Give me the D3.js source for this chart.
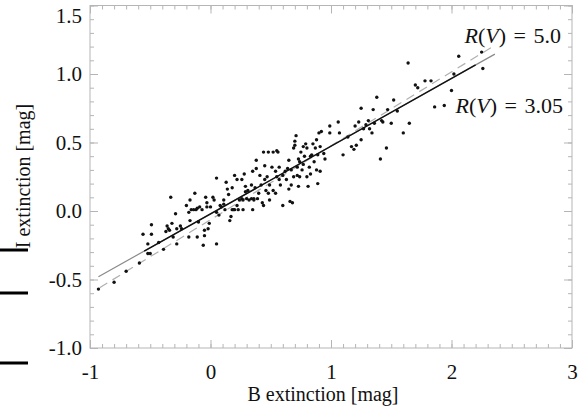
<!DOCTYPE html>
<html>
<head>
<meta charset="utf-8">
<script src="https://cdn.jsdelivr.net/npm/d3@7"></script>
<style>
  body { margin: 0; background: #fff; }
  svg { display: block; }
  text { font-family: "Liberation Serif", "Times New Roman", "DejaVu Serif", serif; }
</style>
</head>
<body>
<div id="plot"></div>
<script>
// B and I extinction values
const bExt = [-0.93,-0.80,-0.70,-0.59,-0.52,-0.50,-0.56,-0.49,-0.49,-0.52,-0.43,-0.39,-0.36,-0.37,-0.35,-0.34,-0.32,-0.31,-0.33,-0.29,
  -0.28,-0.28,-0.25,-0.24,-0.20,-0.17,-0.18,-0.17,-0.18,-0.16,-0.14,-0.13,-0.12,-0.11,-0.11,-0.10,-0.09,-0.07,-0.06,-0.05,
  -0.05,-0.04,-0.03,-0.03,-0.02,-0.01,0.00,0.02,0.03,0.05,0.05,0.05,0.07,0.08,0.09,0.11,0.11,0.12,0.13,0.14,
  0.15,0.16,0.17,0.18,0.18,0.19,0.20,0.20,0.22,0.22,0.23,0.24,0.26,0.26,0.27,0.27,0.28,0.29,0.29,0.30,
  0.31,0.32,0.34,0.34,0.35,0.35,0.36,0.36,0.37,0.38,0.38,0.39,0.40,0.41,0.42,0.43,0.44,0.44,0.45,0.45,
  0.46,0.47,0.48,0.48,0.49,0.49,0.51,0.52,0.52,0.54,0.54,0.55,0.55,0.56,0.57,0.57,0.58,0.60,0.60,0.62,
  0.63,0.64,0.65,0.65,0.66,0.67,0.67,0.68,0.69,0.69,0.70,0.70,0.71,0.72,0.72,0.73,0.73,0.74,0.74,0.75,
  0.76,0.77,0.77,0.78,0.79,0.80,0.80,0.81,0.82,0.83,0.83,0.84,0.85,0.86,0.87,0.88,0.88,0.89,0.89,0.90,
  0.91,0.91,0.92,0.94,0.95,0.99,0.99,1.06,1.07,
  1.10,1.14,1.17,1.19,1.21,1.20,1.23,1.25,1.25,1.27,1.29,1.31,1.32,1.34,1.35,1.36,1.38,1.41,1.42,1.43,
  1.46,1.47,1.50,1.52,1.55,1.60,1.64,1.65,1.70,1.72,1.78,1.83,1.86,1.94,2.00,2.02,2.06,2.25,2.26];
const iExt = [-0.57,-0.52,-0.44,-0.38,-0.31,-0.31,-0.17,-0.10,-0.17,-0.24,-0.23,-0.28,-0.11,-0.15,-0.13,-0.14,-0.09,-0.19,0.10,-0.02,
  -0.13,-0.24,-0.11,-0.13,0.04,0.08,-0.01,-0.07,-0.19,0.01,0.01,0.13,0.01,0.02,-0.19,-0.08,0.03,0.01,-0.25,-0.14,
  -0.18,0.10,0.03,0.06,-0.13,-0.09,0.03,0.10,0.08,0.24,-0.24,-0.01,-0.03,0.04,0.03,0.05,0.08,0.01,0.21,0.16,
  0.12,-0.07,-0.04,0.01,0.17,0.01,0.01,0.26,0.23,0.04,0.01,0.08,0.23,0.09,0.08,0.01,0.27,0.18,0.14,0.09,
  0.15,0.08,0.09,0.19,0.29,0.01,0.09,0.08,0.17,0.37,0.31,0.09,0.13,0.26,0.19,0.06,0.04,0.43,0.23,0.33,
  0.15,0.25,0.13,0.43,0.19,0.08,0.32,0.43,0.15,0.29,0.13,0.25,0.44,0.43,0.32,0.23,0.19,0.26,0.04,0.29,
  0.23,0.31,0.16,0.37,0.07,0.19,0.30,0.06,0.25,0.46,0.51,0.48,0.55,0.26,0.32,0.18,0.38,0.25,0.36,0.43,
  0.30,0.34,0.47,0.40,0.49,0.25,0.46,0.18,0.32,0.40,0.27,0.41,0.49,0.36,0.46,0.52,0.30,0.20,0.41,0.57,
  0.29,0.47,0.58,0.42,0.38,0.62,0.57,0.65,0.57,
  0.41,0.54,0.47,0.45,0.48,0.62,0.65,0.75,0.52,0.60,0.63,0.66,0.60,0.57,0.74,0.64,0.83,0.38,0.66,0.65,
  0.46,0.74,0.64,0.81,0.73,0.57,1.08,0.64,0.92,0.90,0.95,0.95,0.76,0.77,0.88,1.00,1.13,1.16,1.04];

// reddening lines: [start, end] in data units
const rv305B = [-0.93, 2.36], rv305I = [-0.48, 1.145];
const rv50B = [-0.92, 2.36], rv50I = [-0.56, 1.21];
const fitB = [-0.55, 2.2], fitI = [-0.293, 1.066];

const xMajor = [-1, 0, 1, 2, 3];
const yMajor = [-1.0, -0.5, 0.0, 0.5, 1.0, 1.5];
const xMinor = d3.range(-10, 31).map(d => d / 10);
const yMinor = d3.range(-10, 16).map(d => d / 10);

const width = 582, height = 411;
const margin = { left: 90, right: 572, top: 5.5, bottom: 348 };

const svg = d3.select("#plot").append("svg")
  .attr("width", width)
  .attr("height", height);

const x = d3.scaleLinear().domain([-1, 3]).range([margin.left, margin.right]);
const y = d3.scaleLinear().domain([-1, 1.5]).range([margin.bottom, margin.top]);

const frameColor = "#b5b5b5";

function styleAxis(g) {
  g.select(".domain").remove();
  g.selectAll(".tick line").attr("stroke", frameColor);
}

// minor ticks on all sides
svg.append("g").attr("transform", `translate(0,${margin.bottom})`)
  .call(d3.axisBottom(x).tickValues(xMinor).tickSize(-4).tickFormat(""))
  .call(styleAxis);
svg.append("g").attr("transform", `translate(0,${margin.top})`)
  .call(d3.axisTop(x).tickValues(xMinor).tickSize(-4).tickFormat(""))
  .call(styleAxis);
svg.append("g").attr("transform", `translate(${margin.left},0)`)
  .call(d3.axisLeft(y).tickValues(yMinor).tickSize(-4).tickFormat(""))
  .call(styleAxis);
svg.append("g").attr("transform", `translate(${margin.right},0)`)
  .call(d3.axisRight(y).tickValues(yMinor).tickSize(-4).tickFormat(""))
  .call(styleAxis);

// major ticks with labels
const xAxis = svg.append("g").attr("transform", `translate(0,${margin.bottom})`)
  .call(d3.axisBottom(x).tickValues(xMajor).tickSize(-8).tickPadding(16).tickFormat(d => String(d)))
  .call(styleAxis);
const yAxis = svg.append("g").attr("transform", `translate(${margin.left},0)`)
  .call(d3.axisLeft(y).tickValues(yMajor).tickSize(-8).tickPadding(8).tickFormat(d => d.toFixed(1)))
  .call(styleAxis);
svg.append("g").attr("transform", `translate(0,${margin.top})`)
  .call(d3.axisTop(x).tickValues(xMajor).tickSize(-8).tickFormat(""))
  .call(styleAxis);
svg.append("g").attr("transform", `translate(${margin.right},0)`)
  .call(d3.axisRight(y).tickValues(yMajor).tickSize(-8).tickFormat(""))
  .call(styleAxis);

[xAxis, yAxis].forEach(g => {
  g.attr("font-family", null).attr("font-size", null);
  g.selectAll("text")
    .attr("fill", "#111")
    .style("font-size", "21px");
});
// top label sits just inside the picture
yAxis.selectAll(".tick text").filter(d => d === 1.5).attr("dy", "0.8em");

svg.append("rect")
  .attr("x", margin.left).attr("y", margin.top)
  .attr("width", margin.right - margin.left).attr("height", margin.bottom - margin.top)
  .attr("fill", "none").attr("stroke", frameColor);

// lines
const line = d3.line().x(d => x(d[0])).y(d => y(d[1]));
const toPts = (bs, is) => bs.map((b, i) => [b, is[i]]);

svg.append("path")
  .attr("d", line(toPts(rv50B, rv50I)))
  .attr("stroke", "#b0b0b0").attr("stroke-width", 1.2)
  .attr("stroke-dasharray", "9,6").attr("fill", "none");
svg.append("path")
  .attr("d", line(toPts(rv305B, rv305I)))
  .attr("stroke", "#8a8a8a").attr("stroke-width", 1.2).attr("fill", "none");
svg.append("path")
  .attr("d", line(toPts(fitB, fitI)))
  .attr("stroke", "#111").attr("stroke-width", 1.4).attr("fill", "none");

// points
svg.append("g").selectAll("circle")
  .data(toPts(bExt, iExt))
  .enter().append("circle")
  .attr("cx", d => x(d[0]))
  .attr("cy", d => y(d[1]))
  .attr("r", 1.7)
  .attr("fill", "#111");

// labels
function rvLabel(xp, yp, val) {
  const t = svg.append("text")
    .attr("x", xp).attr("y", yp)
    .attr("text-anchor", "end")
    .style("font-size", "22px")
    .style("word-spacing", "2px")
    .attr("fill", "#111");
  t.append("tspan").style("font-style", "italic").text("R");
  t.append("tspan").text("(");
  t.append("tspan").style("font-style", "italic").text("V");
  t.append("tspan").text(") = " + val);
}
rvLabel(561, 43, "5.0");
rvLabel(563, 113, "3.05");

svg.append("text")
  .attr("x", 323).attr("y", 401)
  .attr("text-anchor", "middle")
  .style("font-size", "20px")
  .attr("fill", "#111")
  .text("B extinction [mag]");

svg.append("text")
  .attr("transform", "translate(30,176) rotate(-90)")
  .attr("text-anchor", "middle")
  .style("font-size", "20px")
  .attr("fill", "#111")
  .text("I extinction [mag]");

// scan marks at the left edge
const marks = [250, 293, 363];
svg.append("g").selectAll("rect")
  .data(marks)
  .enter().append("rect")
  .attr("x", 0).attr("y", d => d - 1.5)
  .attr("width", 28).attr("height", 3)
  .attr("fill", "#000");
</script>
</body>
</html>
